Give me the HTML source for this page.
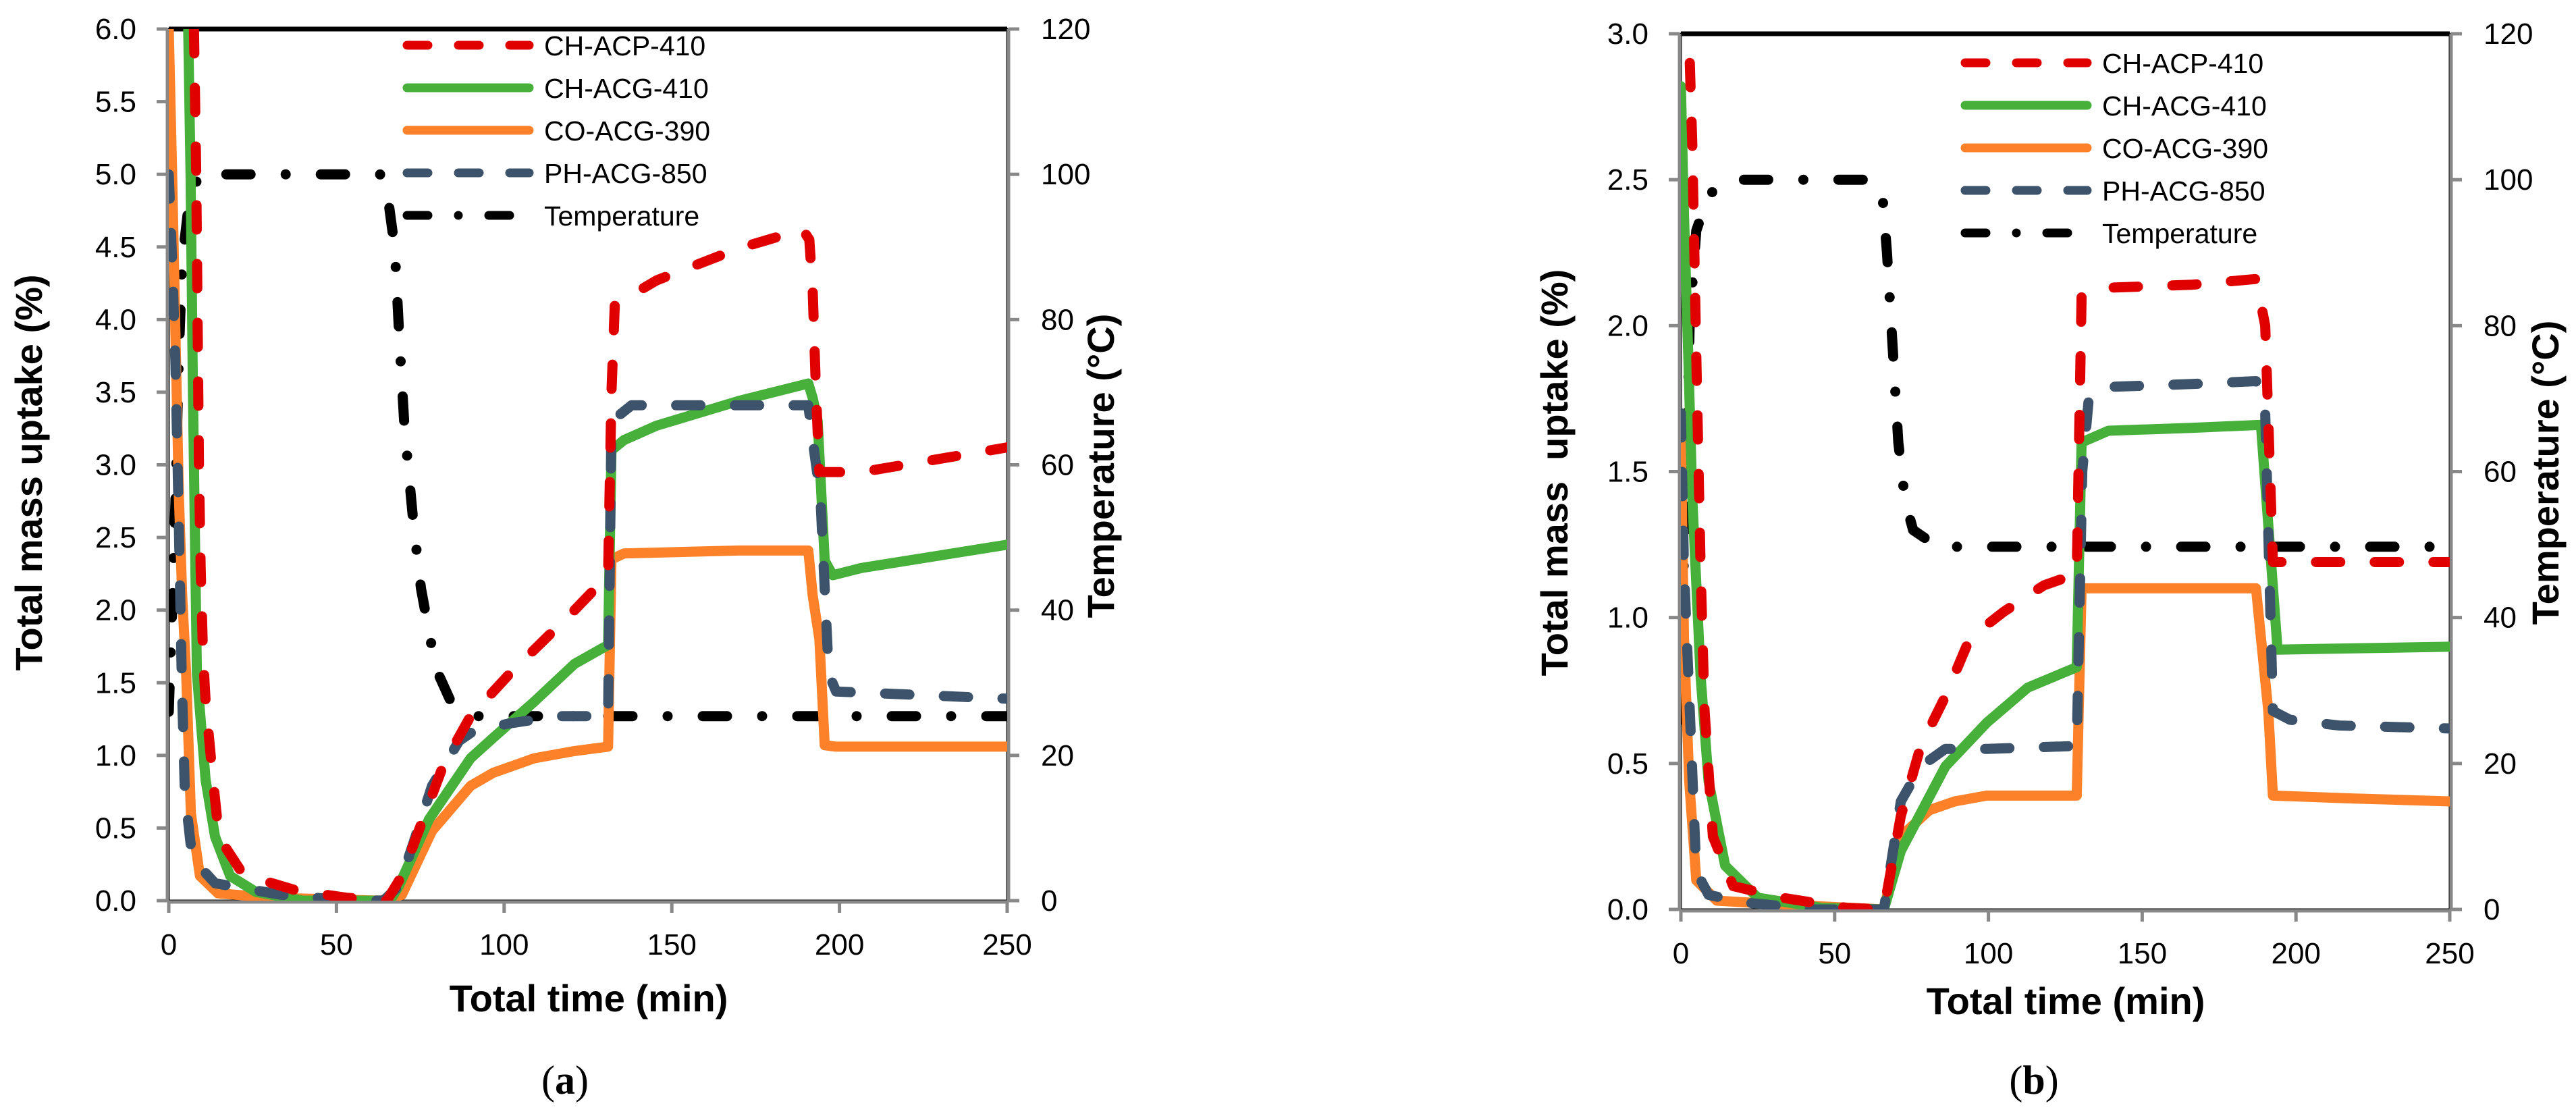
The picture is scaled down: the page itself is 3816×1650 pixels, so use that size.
<!DOCTYPE html>
<html><head><meta charset="utf-8"><style>
html,body{margin:0;padding:0;background:#fff;}
svg{display:block;}
text{font-family:"Liberation Sans",sans-serif;}
</style></head><body>
<svg id="fig" width="3816" height="1650" viewBox="0 0 3816 1650" xmlns="http://www.w3.org/2000/svg"></svg>
<script>
// ---------- data: panel (a) ----------
const aXTicks = [0,50,100,150,200,250];
const aYTicks = ["0.0","0.5","1.0","1.5","2.0","2.5","3.0","3.5","4.0","4.5","5.0","5.5","6.0"];
const aY2Ticks = [0,20,40,60,80,100,120];
const aRedT = [7.5,8.2,8.6,9,9.5,10.2,11,12.9,14.7,16,21.9,23.6,38,53,65,69.5,75.8,82,90,101.6,121,131,132,133,145.5,170,189,191,192,193,194,206.5,250];
const aRedV = [6.0,5.0,4.0,3.0,2.3,1.7,1.37,0.9,0.5,0.4,0.19,0.17,0.07,0.02,0.0,0.17,0.56,0.94,1.27,1.56,2.0,2.24,3.5,4.1,4.27,4.49,4.62,4.55,4.2,3.5,2.95,2.95,3.12];
const aGreenT = [5.8,6.5,7.2,7.8,8.4,11,13.8,18.3,26,40,66,68.6,77.6,90,96.7,109,121,131,132,135.7,145.5,170,190.7,192,193.5,195.6,198,206.5,250];
const aGreenV = [6.0,5.0,3.5,2.5,1.56,0.83,0.44,0.17,0.06,0.0,0.0,0.1,0.56,0.98,1.12,1.37,1.63,1.76,3.1,3.17,3.27,3.44,3.56,3.46,3.3,2.34,2.24,2.29,2.45];
const aOrangeT = [0,1,2,3,4,5.2,6.6,9.3,14.7,31,63,69.5,78.5,90,96.7,109,121,131,132,135.7,170,190.7,192,194,195.6,199,250];
const aOrangeV = [6.0,5.0,3.9,2.8,2.1,1.56,0.6,0.17,0.05,0.02,0.0,0.04,0.48,0.79,0.88,0.98,1.03,1.06,2.35,2.39,2.41,2.41,2.1,1.8,1.07,1.06,1.06];
const aBlueT = [0,1,2,3,3.9,4.8,7,13.8,33.5,49,64,68.6,73,78.5,86.6,91,101.6,116,131,132,138,157.7,190.7,192,194.3,196.8,199,250];
const aBlueV = [5.0,4.4,3.7,2.6,1.5,0.75,0.29,0.12,0.04,0.01,0.0,0.1,0.4,0.79,1.1,1.17,1.22,1.27,1.27,3.3,3.41,3.41,3.41,3.17,2.78,1.56,1.44,1.39];
const aTempT = [0,1,2,3,4,6,9,63,65,67.4,68.8,70.3,73,75.2,79.6,84.5,91.8,250];
const aTempV = [26,40,55,75,88,96,100,100,98,89.8,77,65,51.7,43,32,27,25.4,25.4];

// ---------- data: panel (b) ----------
const bXTicks = [0,50,100,150,200,250];
const bYTicks = ["0.0","0.5","1.0","1.5","2.0","2.5","3.0"];
const bY2Ticks = [0,20,40,60,80,100,120];
const bRedT = [2.9,3.7,5,6.4,7.7,10.4,17,33,54,66,71.5,78,86,94,105,118,128.7,130.3,139,166,187,190,192.5,206,250];
const bRedV = [2.9,2.62,1.9,1.17,0.68,0.25,0.08,0.04,0.005,0,0.32,0.56,0.73,0.93,1.02,1.11,1.15,2.1,2.13,2.14,2.16,2.0,1.19,1.19,1.19];
const bGreenT = [0,1,2.4,3.7,6.4,9,14.4,25,46,66,71.5,86,99.5,112.8,128.7,130.3,139,166,188.6,190,194,250];
const bGreenV = [2.82,2.38,1.9,1.41,0.8,0.44,0.15,0.04,0.005,0,0.2,0.49,0.64,0.76,0.83,1.6,1.64,1.65,1.66,1.46,0.89,0.9];
const bOrangeT = [0,1,2.7,5,11.7,33,66,71.5,80.8,89,99.5,128.7,130.3,139,187,188.6,191,192.5,219,250];
const bOrangeV = [1.6,0.93,0.44,0.1,0.03,0.017,0,0.25,0.34,0.37,0.39,0.39,1.1,1.1,1.1,0.93,0.68,0.39,0.38,0.37];
const bBlueT = [0,1,2.9,5,9,19.7,43.6,66,71.5,78,86,99.5,128.7,130.5,132.7,139,166,187,190,192.5,198,214,250];
const bBlueV = [1.7,1.17,0.68,0.13,0.05,0.025,0,0,0.37,0.49,0.55,0.55,0.56,1.5,1.76,1.79,1.8,1.81,1.7,0.68,0.65,0.63,0.62];
const bTempT = [0,0.5,1.6,2.9,5,9,17,59.6,65.4,67,69,70.7,72.9,75.5,83.5,250];
const bTempV = [26,42,56,81,93,98,100,100,98.6,90,76,64,56,52,49.7,49.7];

const legendLabels = ["CH-ACP-410","CH-ACG-410","CO-ACG-390","PH-ACG-850","Temperature"];

const NS = "http://www.w3.org/2000/svg";
const svg = document.getElementById('fig');
function el(tag, attrs, parent){ const e=document.createElementNS(NS,tag); for(const k in attrs) e.setAttribute(k,attrs[k]); (parent||svg).appendChild(e); return e; }

const STY = {
  red:{stroke:"#e00000",dash:"36 51"},
  green:{stroke:"#46b03b",dash:null},
  orange:{stroke:"#fd8129",dash:null},
  blue:{stroke:"#3d536b",dash:"36 51"},
  temp:{stroke:"#000000",dash:"36 52 0 52"}
};

function panel(o){
  const g = el('g',{});
  
  
  const L=o.L,R=o.R,T=o.T,B=o.B;
  const xs = t => L + (t/250)*(R-L);
  const ys = v => B - (v/o.ymax)*(B-T);
  const ys2 = v => B - (v/120)*(B-T);
  const cid='clip-'+o.id;
  const cp = el('clipPath',{id:cid},g); el('rect',{x:L,y:T,width:R-L,height:B-T},cp);
  const fr = el('rect',{x:L,y:T,width:R-L,height:B-T,fill:'none',stroke:'#000','stroke-width':3},g);
   
  el('line',{x1:L,y1:T,x2:R,y2:T,stroke:'#000','stroke-width':7},g);
  const ax = el('g',{stroke:'#888','stroke-width':5,fill:'none'},g);
   
  el('line',{x1:L-2,y1:T,x2:L-2,y2:B+2},ax);
  el('line',{x1:L-2,y1:B+2,x2:R+2,y2:B+2},ax);
  el('line',{x1:R+2,y1:T,x2:R+2,y2:B+2},ax);
  o.yTicks.forEach((lab,i)=>{
    const v = parseFloat(lab); const y = ys(v);
    el('line',{x1:L-18,y1:y,x2:L-2,y2:y},ax);
    const t = el('text',{x:L-48,y:y+15,'font-size':44,'text-anchor':'end',fill:'#000'},g);
    t.textContent = lab;
     
  });
  o.y2Ticks.forEach(v=>{
    const y = ys2(v);
    el('line',{x1:R+2,y1:y,x2:R+18,y2:y},ax);
    const t = el('text',{x:R+50,y:y+15,'font-size':44,'text-anchor':'start',fill:'#000'},g);
    t.textContent = v;
     
  });
  o.xTicks.forEach(v=>{
    const x = xs(v);
    el('line',{x1:x,y1:B+2,x2:x,y2:B+18},ax);
    const t = el('text',{x:x,y:B+80,'font-size':44,'text-anchor':'middle',fill:'#000'},g);
    t.textContent = v;
     
  });
  const sg = el('g',{'clip-path':'url(#'+cid+')'},g);
  o.series.forEach(s=>{
    const st = STY[s.k]; const sc = s.k==='temp'?ys2:ys;
    const d = s.t.map((t,i)=>(i?'L':'M')+xs(t).toFixed(1)+' '+sc(s.v[i]).toFixed(1)).join(' ');
    const p = el('path',{d:d,fill:'none',stroke:st.stroke,'stroke-width':15,'stroke-linecap':'round','stroke-linejoin':'round'},sg);
    if(st.dash) p.setAttribute('stroke-dasharray',st.dash);
    
    
  });
  const lg = el('g',{},g);
   
  const keys=['red','green','orange','blue','temp'];
  legendLabels.forEach((lab,i)=>{
    const y = o.legY + i*63; const st=STY[keys[i]];
    const ent = el('g',{},lg);
     
    const ln = el('line',{x1:o.legX+7,y1:y,x2:o.legX+188,y2:y,stroke:st.stroke,'stroke-width':13,'stroke-linecap':'round'},ent);
    if(st.dash) ln.setAttribute('stroke-dasharray', keys[i]==='temp'?"31 45 0 45":"31 45");
    const t = el('text',{x:o.legX+210,y:y+15,'font-size':41,fill:'#000'},ent);
    t.textContent = lab;
  });
  const xt = el('text',{x:o.xtX,y:o.xtY,'font-size':56,'font-weight':'bold','text-anchor':'middle',fill:'#000'},g);
  xt.textContent='Total time (min)';
   
  const yt = el('text',{x:0,y:0,'font-size':56,'font-weight':'bold','text-anchor':'middle',fill:'#000',transform:'translate('+o.ytX+','+o.ytY+') rotate(-90)',style:'white-space:pre'},g);
  yt.textContent=o.ytitle;
   
  const y2 = el('text',{x:0,y:0,'font-size':56,'font-weight':'bold','text-anchor':'middle',fill:'#000',transform:'translate('+o.y2X+','+o.y2Y+') rotate(-90)'},g);
  y2.textContent='Temperature (°C)';
   
  const cap = el('text',{x:o.capX,y:o.capY,'font-size':60,'text-anchor':'middle',fill:'#000',style:'font-family:"Liberation Serif",serif'},g);
  cap.innerHTML = '(<tspan font-weight="bold">'+o.cap+'</tspan>)';
   
}

panel({id:'panel-a',L:250,R:1492,T:43,B:1334,ymax:6,yTicks:aYTicks,y2Ticks:aY2Ticks,xTicks:aXTicks,
  series:[{k:'temp',name:'Temperature',t:aTempT,v:aTempV},{k:'orange',name:'CO-ACG-390',t:aOrangeT,v:aOrangeV},{k:'green',name:'CH-ACG-410',t:aGreenT,v:aGreenV},{k:'blue',name:'PH-ACG-850',t:aBlueT,v:aBlueV},{k:'red',name:'CH-ACP-410',t:aRedT,v:aRedV}],
  legX:596,legY:67,xtX:872,xtY:1498,ytX:62,ytY:700,ytitle:'Total mass uptake (%)',y2X:1650,y2Y:690,capX:837,capY:1620,cap:'a'});
panel({id:'panel-b',L:2490,R:3629,T:50,B:1347,ymax:3,yTicks:bYTicks,y2Ticks:bY2Ticks,xTicks:bXTicks,
  series:[{k:'temp',name:'Temperature',t:bTempT,v:bTempV},{k:'orange',name:'CO-ACG-390',t:bOrangeT,v:bOrangeV},{k:'green',name:'CH-ACG-410',t:bGreenT,v:bGreenV},{k:'blue',name:'PH-ACG-850',t:bBlueT,v:bBlueV},{k:'red',name:'CH-ACP-410',t:bRedT,v:bRedV}],
  legX:2904,legY:93,xtX:3060,xtY:1502,ytX:2322,ytY:700,ytitle:'Total mass  uptake (%)',y2X:3790,y2Y:700,capX:3013,capY:1620,cap:'b'});
</script>
</body></html>
